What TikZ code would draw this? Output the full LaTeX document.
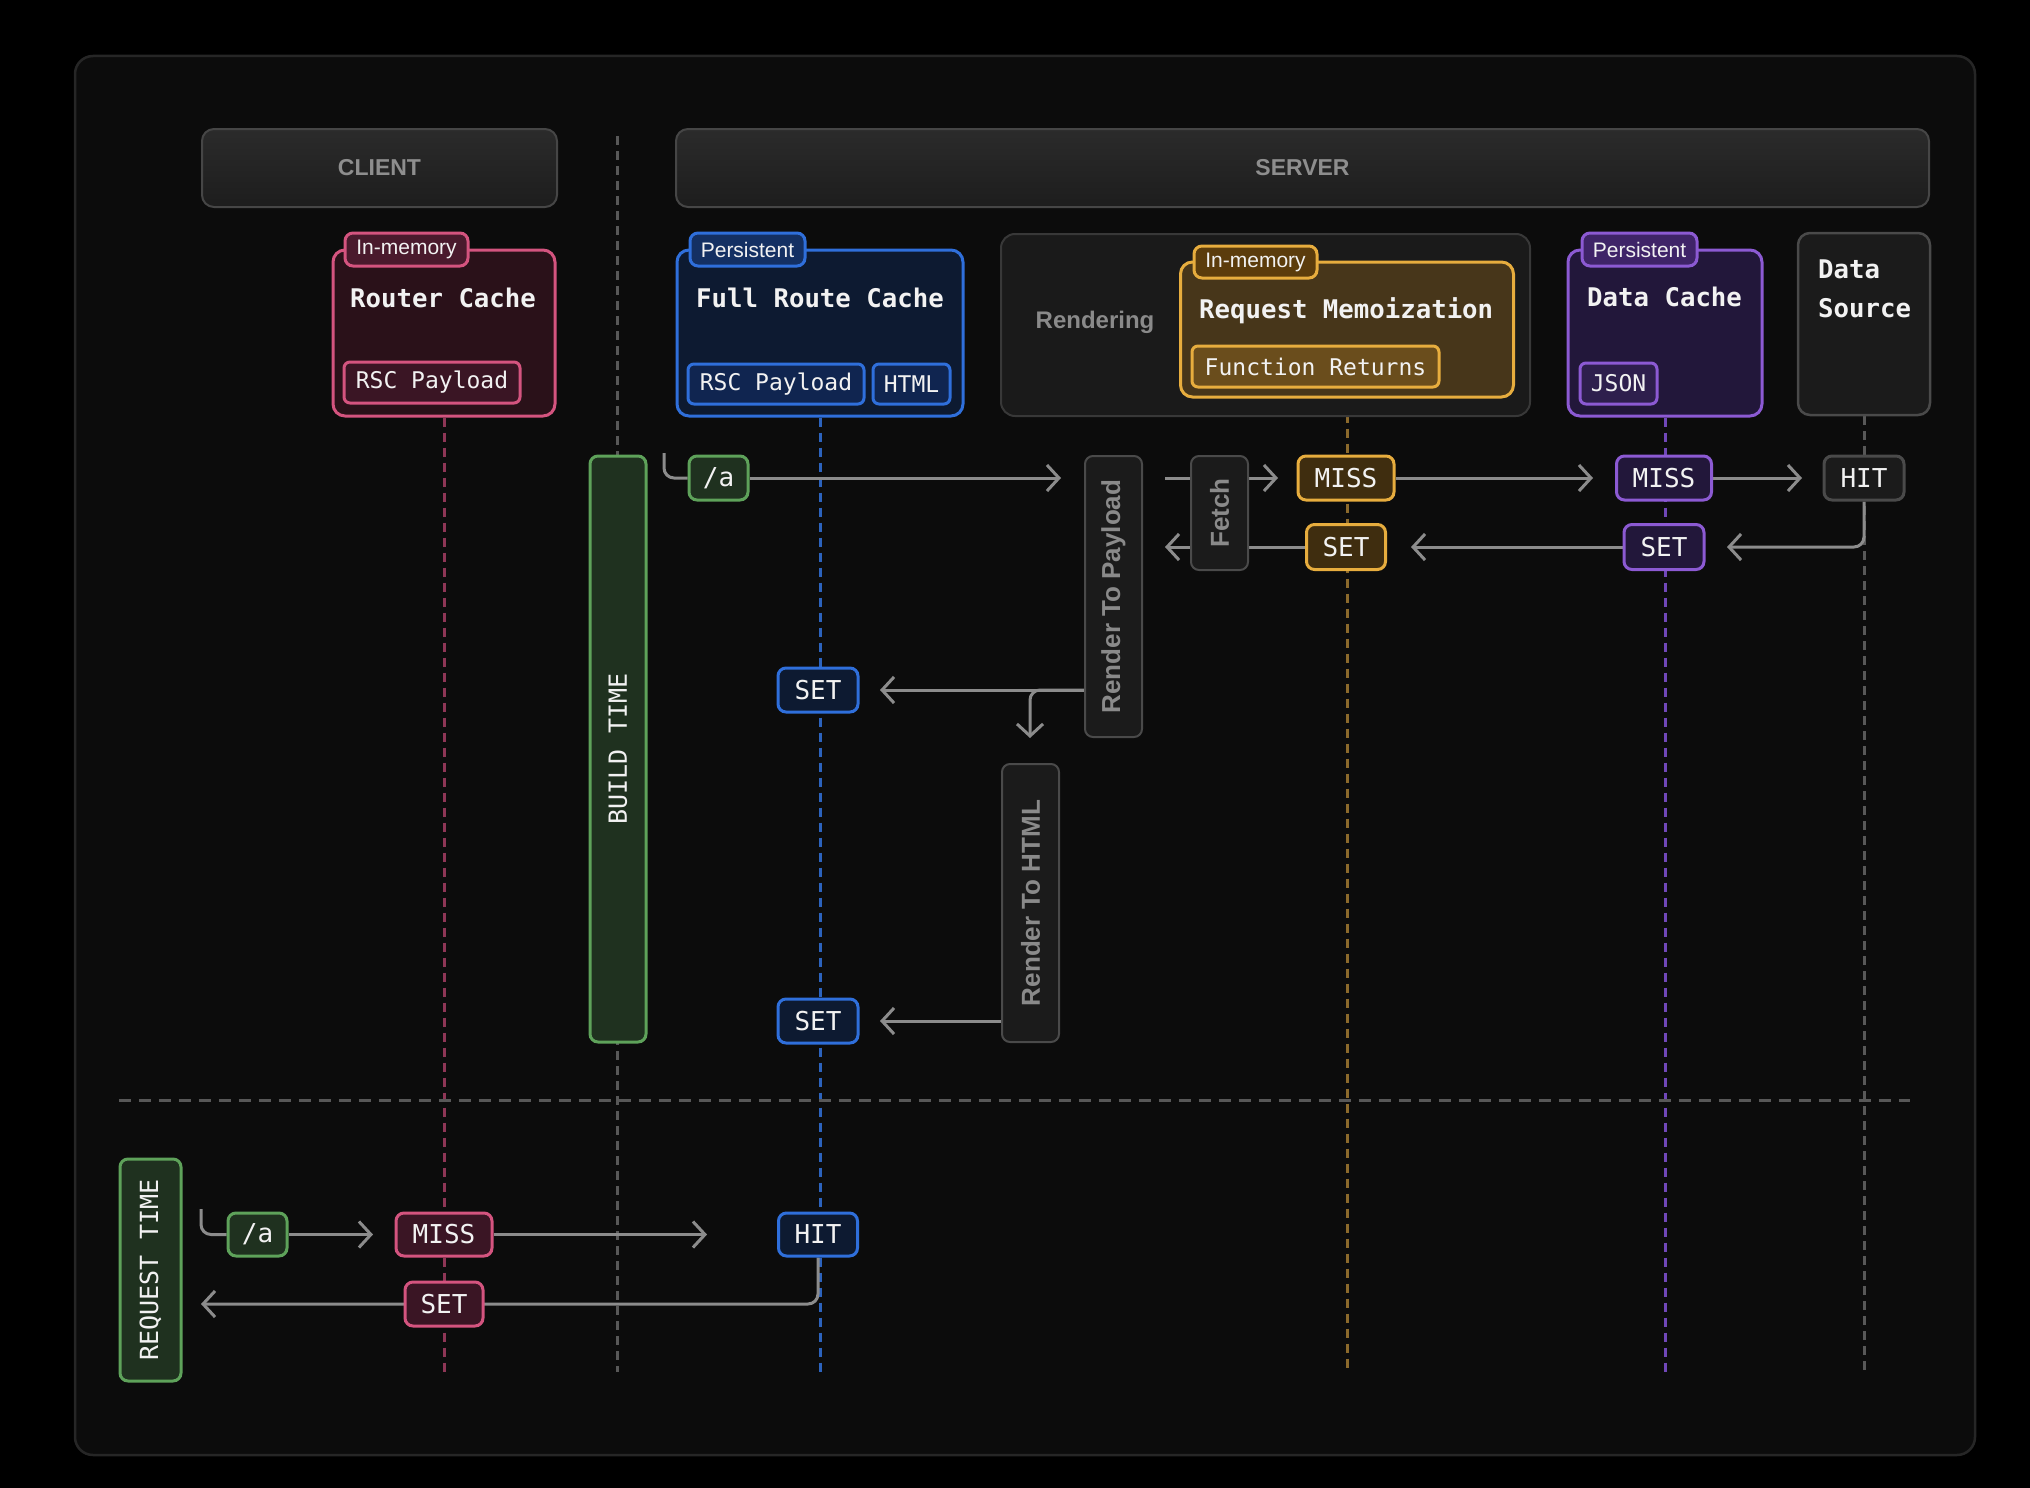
\documentclass[tikz,border=0pt]{standalone}
\usepackage{fontspec}
\setmainfont{Liberation Sans}
\newfontfamily\dgmono{DejaVu Sans Mono}
\usetikzlibrary{arrows.meta}

\definecolor{cFrameF}{HTML}{0C0C0C}
\definecolor{cFrameB}{HTML}{262626}
\definecolor{cHeadB}{HTML}{464646}
\definecolor{cHeadTop}{HTML}{2B2B2B}
\definecolor{cHeadBot}{HTML}{1D1D1D}
\definecolor{cHeadT}{HTML}{8E8E8E}
\definecolor{cPink}{HTML}{D4547F}
\definecolor{cPinkF}{HTML}{2A1119}
\definecolor{cPinkT}{HTML}{4A1A2D}
\definecolor{cPinkI}{HTML}{3A1524}
\definecolor{cPinkL}{HTML}{8E3656}
\definecolor{cBlue}{HTML}{2F6FDB}
\definecolor{cBlueF}{HTML}{0D1A31}
\definecolor{cBlueT}{HTML}{143063}
\definecolor{cBlueI}{HTML}{102550}
\definecolor{cBlueL}{HTML}{2C63BD}
\definecolor{cYel}{HTML}{E7AD3E}
\definecolor{cYelF}{HTML}{47361A}
\definecolor{cYelT}{HTML}{5B3C0C}
\definecolor{cYelI}{HTML}{6A4D1C}
\definecolor{cYelL}{HTML}{8C6A2C}
\definecolor{cYelC}{HTML}{3F2D0F}
\definecolor{cPur}{HTML}{8C5AD3}
\definecolor{cPurF}{HTML}{22173A}
\definecolor{cPurT}{HTML}{3F2468}
\definecolor{cPurI}{HTML}{2E1F4D}
\definecolor{cPurL}{HTML}{7047B8}
\definecolor{cGrn}{HTML}{5EA25A}
\definecolor{cGrnF}{HTML}{1F311F}
\definecolor{cGrayB}{HTML}{4A4A4A}
\definecolor{cGrayF}{HTML}{1B1B1B}
\definecolor{cRendF}{HTML}{1A1A1A}
\definecolor{cRendB}{HTML}{383838}
\definecolor{cProcT}{HTML}{8A8A8A}
\definecolor{cLineG}{HTML}{585858}
\definecolor{cArrow}{HTML}{8C8C8C}
\definecolor{cText}{HTML}{F2F2F2}

\newcommand\dgTitleFont{\dgmono\bfseries\fontsize{25.7}{31}\selectfont}
\newcommand\dgInnerFont{\dgmono\fontsize{23}{28}\selectfont}
\newcommand\dgChipFont{\dgmono\fontsize{26}{30}\selectfont}
\newcommand\dgBarFont{\dgmono\fontsize{25}{30}\selectfont}
\newcommand\dgTagFont{\fontsize{21}{24}\selectfont}
\newcommand\dgHeadFont{\bfseries\fontsize{23}{28}\selectfont}
\newcommand\dgProcFont{\bfseries\fontsize{26}{30}\selectfont}
\newcommand\dgRendFont{\bfseries\fontsize{24}{29}\selectfont}

\pgfdeclarelayer{bglayer}
\pgfdeclarelayer{linelayer}
\pgfsetlayers{bglayer,linelayer,main}

\begin{document}
\begin{tikzpicture}[x=1pt,y=-1pt,
  sz/.style n args={2}{minimum width=#1pt, minimum height=#2pt},
  conn/.style={draw=cArrow, line width=3pt},
  arr/.style={conn, -{Straight Barb[length=12pt,width=26pt]}},
  life/.style={line width=3pt, dash pattern=on 9pt off 6pt},
  headbox/.style={draw=cHeadB, line width=2pt, rounded corners=12pt, top color=cHeadTop, bottom color=cHeadBot, text=cHeadT, font=\dgHeadFont, inner sep=0pt},
  cachebox/.style={draw=#1, line width=3pt, rounded corners=12pt, inner sep=0pt},
  tagbox/.style={draw=#1, line width=3pt, rounded corners=8pt, inner sep=0pt, text=cText, font=\dgTagFont},
  innerbox/.style={draw=#1, line width=3pt, rounded corners=6pt, inner sep=0pt, text=cText, font=\dgInnerFont},
  titletext/.style={text=cText, font=\dgTitleFont, inner sep=0pt, anchor=base west},
  chipbox/.style={draw=#1, line width=3pt, rounded corners=8pt, inner sep=0pt, text=cText, font=\dgChipFont},
  procbox/.style={draw=cGrayB, fill=cGrayF, line width=2pt, rounded corners=8pt, inner sep=0pt, text=cProcT, font=\dgProcFont},
  barbox/.style={draw=cGrn, fill=cGrnF, line width=3pt, rounded corners=8pt, inner sep=0pt, text=cText, font=\dgBarFont}
]

% ---------- background ----------
\begin{pgfonlayer}{bglayer}
\fill[black] (0,0) rectangle (2030,1488);
\draw[fill=cFrameF, draw=cFrameB, line width=2.5pt, rounded corners=18pt] (75,56) rectangle (1975,1455);
\end{pgfonlayer}

% ---------- headers ----------
\node[headbox, sz={355}{78}] (client) at (379.5,168) {CLIENT};
\node[headbox, sz={1253}{78}] (server) at (1302.5,168) {SERVER};

% ---------- Router Cache ----------
\node[cachebox=cPink, fill=cPinkF, sz={222}{166}] (rc) at (444,333) {};
\node[tagbox=cPink, fill=cPinkT, sz={123}{33}] (rcTag) at (406.5,249.5) {In-memory};
\node[titletext] (rcT) at (350,307) {Router Cache};
\node[innerbox=cPink, fill=cPinkI, sz={176}{41}] (rcP) at (432,382.5) {RSC Payload};

% ---------- Full Route Cache ----------
\node[cachebox=cBlue, fill=cBlueF, sz={286}{166}] (fr) at (820,333) {};
\node[tagbox=cBlue, fill=cBlueT, sz={115}{33}] (frTag) at (747.5,249.5) {Persistent};
\node[titletext] (frT) at (696,307) {Full Route Cache};
\node[innerbox=cBlue, fill=cBlueI, sz={176}{40}] (frP) at (776,384) {RSC Payload};
\node[innerbox=cBlue, fill=cBlueI, sz={77}{40}] (frH) at (911.5,384) {HTML};

% ---------- Rendering / Request Memoization ----------
\node[draw=cRendB, fill=cRendF, line width=2pt, rounded corners=14pt, sz={529}{182}] (rend) at (1265.5,325) {};
\node[text=cProcT, font=\dgRendFont] (rendT) at (1095,322) {Rendering};
\node[cachebox=cYel, fill=cYelF, sz={333}{135}] (rm) at (1347,329.5) {};
\node[tagbox=cYel, fill=cYelT, sz={123}{32}] (rmTag) at (1255.5,262) {In-memory};
\node[titletext] (rmT) at (1199,318) {Request Memoization};
\node[innerbox=cYel, fill=cYelI, sz={247}{41}] (rmF) at (1315.5,366.5) {Function Returns};

% ---------- Data Cache ----------
\node[cachebox=cPur, fill=cPurF, sz={194}{166}] (dc) at (1665,333) {};
\node[tagbox=cPur, fill=cPurT, sz={115}{33}] (dcTag) at (1639.5,249.5) {Persistent};
\node[titletext] (dcT) at (1587,306) {Data Cache};
\node[innerbox=cPur, fill=cPurI, sz={77}{41}] (dcJ) at (1618.5,383.5) {JSON};

% ---------- Data Source ----------
\node[cachebox=cGrayB, fill=cGrayF, line width=2.5pt, sz={132}{182}] (ds) at (1864,324) {};
\node[titletext] (dsT1) at (1818,278) {Data};
\node[titletext] (dsT2) at (1818,317) {Source};

% ---------- time bars ----------
\node[barbox, sz={56}{586}] (build) at (618,749) {\rotatebox{90}{BUILD TIME}};
\node[barbox, sz={61}{222}] (req) at (150.5,1270) {\rotatebox{90}{REQUEST TIME}};

% ---------- build-time chips ----------
\node[chipbox=cGrn, fill=cGrnF, sz={59}{44}] (a1) at (718.5,478) {/a};
\node[procbox, sz={57}{281}] (rtp) at (1113.5,596.5) {\rotatebox{90}{Render To Payload}};
\node[procbox, sz={57}{114}] (fetch) at (1219.5,513) {\rotatebox{90}{Fetch}};
\node[chipbox=cYel, fill=cYelC, sz={96}{44}] (m1) at (1346,478) {MISS};
\node[chipbox=cPur, fill=cPurF, sz={95}{44}] (m2) at (1664,478) {MISS};
\node[chipbox=cGrayB, fill=cGrayF, sz={80}{44}] (h1) at (1864,478) {HIT};
\node[chipbox=cYel, fill=cYelC, sz={79}{45}] (s1) at (1346,547) {SET};
\node[chipbox=cPur, fill=cPurF, sz={80}{45}] (s2) at (1664,547) {SET};
\node[chipbox=cBlue, fill=cBlueF, sz={80}{44}] (s3) at (818,690) {SET};
\node[procbox, sz={57}{278}] (rth) at (1030.5,903) {\rotatebox{90}{Render To HTML}};
\node[chipbox=cBlue, fill=cBlueF, sz={80}{44}] (s4) at (818,1021) {SET};

% ---------- request-time chips ----------
\node[chipbox=cGrn, fill=cGrnF, sz={59}{43}] (a2) at (257.5,1234.5) {/a};
\node[chipbox=cPink, fill=cPinkI, sz={96}{43}] (m3) at (444,1234.5) {MISS};
\node[chipbox=cBlue, fill=cBlueF, sz={79}{43}] (h2) at (818,1234.5) {HIT};
\node[chipbox=cPink, fill=cPinkI, sz={78}{44}] (s5) at (444,1304) {SET};

% ---------- free connector ends ----------
\coordinate (bot) at (0,1372);
\coordinate (sepTop) at (617,136);
\coordinate (hookA) at (664,453);
\coordinate (tA) at (1061,478);
\coordinate (fIn) at (1165,478);
\coordinate (tM1) at (1278,478);
\coordinate (tM2) at (1593,478);
\coordinate (tH1) at (1802,478);
\coordinate (tS2) at (1727,547);
\coordinate (tS1) at (1411,547);
\coordinate (fOut) at (1165,547);
\coordinate (tS3) at (880,690);
\coordinate (tRth) at (1030,738);
\coordinate (tS4) at (880,1021);
\coordinate (hookB) at (201,1209);
\coordinate (tM3) at (373,1234.5);
\coordinate (tH2) at (707,1234.5);
\coordinate (tBack) at (201,1304);

\begin{pgfonlayer}{linelayer}
% lifelines
\draw[life, draw=cPinkL] (rc.south) -- (rc.south |- bot);
\draw[life, draw=cLineG] (sepTop) -- (sepTop |- bot);
\draw[life, draw=cBlueL] (fr.south) -- (fr.south |- bot);
\draw[life, draw=cYelL] (rm.south) -- (rm.south |- bot);
\draw[life, draw=cPurL] (dc.south) -- (dc.south |- bot);
\draw[life, draw=cLineG] (ds.south) -- (ds.south |- bot);
% time separator
\draw[draw=cLineG, line width=3pt, dash pattern=on 12pt off 8pt] (119,1100) -- (1910,1100);
% build time flow
\draw[conn, rounded corners=10pt] (hookA) |- (a1.west);
\draw[arr] (a1.east) -- (tA);
\draw[arr] (fIn) -- (tM1);
\draw[arr] (m1.east) -- (tM2);
\draw[arr] (m2.east) -- (tH1);
\draw[arr, rounded corners=10pt] (h1.south) |- (tS2);
\draw[arr] (s2.west) -- (tS1);
\draw[arr] (s1.west) -- (fOut);
\draw[arr] (rtp.west |- s3) -- (tS3);
\draw[arr, rounded corners=10pt] (rtp.west |- s3) -| (tRth);
\draw[arr] (rth.west |- s4) -- (tS4);
% request time flow
\draw[conn, rounded corners=10pt] (hookB) |- (a2.west);
\draw[arr] (a2.east) -- (tM3);
\draw[arr] (m3.east) -- (tH2);
\draw[arr, rounded corners=10pt] (h2.south) |- (tBack);
\end{pgfonlayer}
\end{tikzpicture}
\end{document}
